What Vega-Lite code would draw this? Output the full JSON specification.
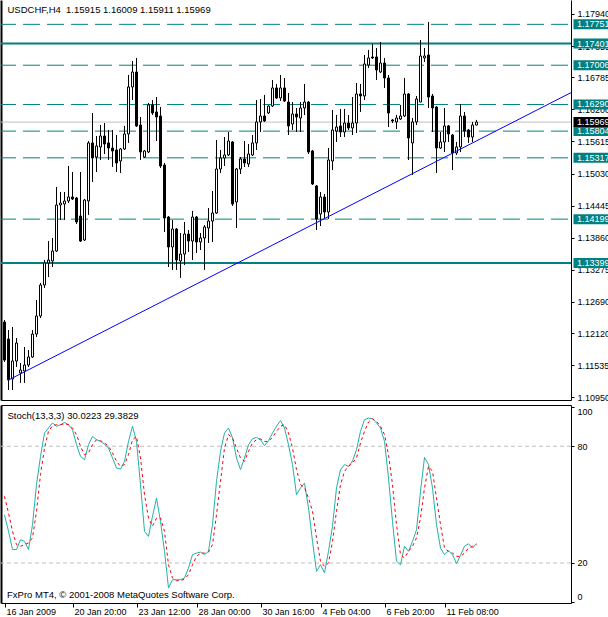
{
  "$schema": "https://vega.github.io/schema/vega-lite/v6.json",
  "padding": 0,
  "background": "white",
  "spacing": 2,
  "config": {
    "view": {"stroke": null},
    "scale": {"continuousPadding": 0},
    "axis": {"labelFont": "Liberation Sans", "labelFontSize": 9, "labelColor": "black", "tickColor": "black", "domainColor": "black", "grid": false, "title": null},
    "text": {"font": "Liberation Sans"}
  },
  "datasets": {
    "bars": [
      {"i":0,"o":1.12323,"h":1.12360,"l":1.11594,"c":1.11630,"k":44.8,"d":54.3},
      {"i":1,"o":1.12013,"h":1.12177,"l":1.11083,"c":1.11266,"k":36.3,"d":45.7},
      {"i":2,"o":1.11284,"h":1.12232,"l":1.11083,"c":1.11612,"k":26.9,"d":36.3},
      {"i":3,"o":1.11612,"h":1.12032,"l":1.11503,"c":1.11940,"k":26.9,"d":29.4},
      {"i":4,"o":1.11393,"h":1.11576,"l":1.11211,"c":1.11448,"k":32.0,"d":28.6},
      {"i":5,"o":1.11430,"h":1.11867,"l":1.11211,"c":1.11539,"k":31.1,"d":29.4},
      {"i":6,"o":1.11539,"h":1.11813,"l":1.11503,"c":1.11685,"k":26.9,"d":30.3},
      {"i":7,"o":1.11685,"h":1.12177,"l":1.11667,"c":1.12104,"k":39.7,"d":32.9},
      {"i":8,"o":1.12104,"h":1.12725,"l":1.12050,"c":1.12433,"k":60.3,"d":46.6},
      {"i":9,"o":1.12433,"h":1.13035,"l":1.12396,"c":1.12998,"k":74.8,"d":65.4},
      {"i":10,"o":1.12998,"h":1.13454,"l":1.12943,"c":1.13399,"k":86.8,"d":79.1},
      {"i":11,"o":1.13399,"h":1.13800,"l":1.13144,"c":1.13454,"k":89.4,"d":87.7},
      {"i":12,"o":1.13436,"h":1.13855,"l":1.13326,"c":1.13618,"k":92.0,"d":90.6},
      {"i":13,"o":1.13618,"h":1.14785,"l":1.13600,"c":1.14457,"k":90.3,"d":91.1},
      {"i":14,"o":1.14457,"h":1.14694,"l":1.14183,"c":1.14493,"k":91.1,"d":91.1},
      {"i":15,"o":1.14475,"h":1.14694,"l":1.14183,"c":1.14530,"k":92.3,"d":91.5},
      {"i":16,"o":1.14530,"h":1.15168,"l":1.14493,"c":1.14603,"k":91.1,"d":91.1},
      {"i":17,"o":1.14603,"h":1.15059,"l":1.14548,"c":1.14566,"k":88.5,"d":89.4},
      {"i":18,"o":1.14585,"h":1.14603,"l":1.14111,"c":1.14147,"k":80.8,"d":86.0},
      {"i":19,"o":1.14256,"h":1.15059,"l":1.13782,"c":1.13800,"k":74.8,"d":80.0},
      {"i":20,"o":1.13819,"h":1.14566,"l":1.13800,"c":1.14548,"k":73.1,"d":75.7},
      {"i":21,"o":1.14530,"h":1.15624,"l":1.14275,"c":1.15588,"k":80.8,"d":76.6},
      {"i":22,"o":1.15588,"h":1.16135,"l":1.14876,"c":1.15314,"k":85.1,"d":80.8},
      {"i":23,"o":1.15332,"h":1.15715,"l":1.15059,"c":1.15533,"k":83.4,"d":83.4},
      {"i":24,"o":1.15515,"h":1.15916,"l":1.15278,"c":1.15715,"k":82.5,"d":82.9},
      {"i":25,"o":1.15715,"h":1.15952,"l":1.15387,"c":1.15569,"k":81.2,"d":81.7},
      {"i":26,"o":1.15588,"h":1.15825,"l":1.15278,"c":1.15496,"k":79.1,"d":80.0},
      {"i":27,"o":1.15496,"h":1.15825,"l":1.15150,"c":1.15442,"k":74.0,"d":76.6},
      {"i":28,"o":1.15460,"h":1.15733,"l":1.15059,"c":1.15223,"k":68.8,"d":72.3},
      {"i":29,"o":1.15259,"h":1.15496,"l":1.15041,"c":1.15478,"k":68.3,"d":69.7},
      {"i":30,"o":1.15478,"h":1.15898,"l":1.15460,"c":1.15752,"k":72.3,"d":70.6},
      {"i":31,"o":1.15752,"h":1.16828,"l":1.15588,"c":1.16609,"k":82.5,"d":75.7},
      {"i":32,"o":1.16609,"h":1.17083,"l":1.16372,"c":1.16882,"k":90.3,"d":83.4},
      {"i":33,"o":1.16882,"h":1.17138,"l":1.15879,"c":1.15898,"k":82.5,"d":85.1},
      {"i":34,"o":1.15916,"h":1.16062,"l":1.15278,"c":1.15423,"k":60.3,"d":74.0},
      {"i":35,"o":1.15332,"h":1.15460,"l":1.15314,"c":1.15442,"k":36.3,"d":55.1},
      {"i":36,"o":1.15423,"h":1.16317,"l":1.15405,"c":1.16281,"k":33.7,"d":43.1},
      {"i":37,"o":1.16281,"h":1.16372,"l":1.16098,"c":1.16135,"k":44.0,"d":38.9},
      {"i":38,"o":1.16153,"h":1.16426,"l":1.15624,"c":1.16062,"k":53.4,"d":43.1},
      {"i":39,"o":1.16080,"h":1.16244,"l":1.15132,"c":1.15168,"k":41.4,"d":43.1},
      {"i":40,"o":1.15186,"h":1.15223,"l":1.13965,"c":1.14220,"k":26.0,"d":36.3},
      {"i":41,"o":1.14238,"h":1.14256,"l":1.13326,"c":1.13691,"k":7.1,"d":19.1},
      {"i":42,"o":1.13691,"h":1.14183,"l":1.13272,"c":1.14019,"k":11.4,"d":12.3},
      {"i":43,"o":1.14019,"h":1.14038,"l":1.13272,"c":1.13454,"k":11.4,"d":10.9},
      {"i":44,"o":1.13436,"h":1.13946,"l":1.13126,"c":1.13563,"k":11.4,"d":10.9},
      {"i":45,"o":1.13563,"h":1.14147,"l":1.13363,"c":1.13928,"k":12.3,"d":11.8},
      {"i":46,"o":1.13928,"h":1.14001,"l":1.13600,"c":1.13800,"k":17.4,"d":14.0},
      {"i":47,"o":1.13800,"h":1.14348,"l":1.13454,"c":1.14238,"k":24.3,"d":19.1},
      {"i":48,"o":1.14238,"h":1.14256,"l":1.13582,"c":1.13782,"k":25.1,"d":23.4},
      {"i":49,"o":1.13782,"h":1.13946,"l":1.13636,"c":1.13855,"k":25.6,"d":25.1},
      {"i":50,"o":1.13855,"h":1.14092,"l":1.13272,"c":1.14056,"k":24.3,"d":25.1},
      {"i":51,"o":1.14038,"h":1.14402,"l":1.13764,"c":1.14165,"k":26.0,"d":25.6},
      {"i":52,"o":1.14165,"h":1.14712,"l":1.13782,"c":1.14311,"k":39.7,"d":29.4},
      {"i":53,"o":1.14311,"h":1.15642,"l":1.14293,"c":1.15113,"k":62.0,"d":44.8},
      {"i":54,"o":1.15113,"h":1.15460,"l":1.15041,"c":1.15314,"k":77.4,"d":62.0},
      {"i":55,"o":1.15314,"h":1.15697,"l":1.15168,"c":1.15369,"k":86.8,"d":79.1},
      {"i":56,"o":1.15369,"h":1.15788,"l":1.15350,"c":1.15624,"k":89.4,"d":86.0},
      {"i":57,"o":1.15606,"h":1.15624,"l":1.14439,"c":1.14475,"k":84.3,"d":84.3},
      {"i":58,"o":1.14512,"h":1.15132,"l":1.14038,"c":1.15113,"k":74.0,"d":79.1},
      {"i":59,"o":1.15113,"h":1.15332,"l":1.15022,"c":1.15296,"k":68.0,"d":74.0},
      {"i":60,"o":1.15296,"h":1.15624,"l":1.15150,"c":1.15223,"k":74.0,"d":72.3},
      {"i":61,"o":1.15205,"h":1.15569,"l":1.15150,"c":1.15387,"k":80.8,"d":77.4},
      {"i":62,"o":1.15369,"h":1.15733,"l":1.15350,"c":1.15588,"k":83.9,"d":81.7},
      {"i":63,"o":1.15588,"h":1.16372,"l":1.15460,"c":1.15971,"k":84.6,"d":83.4},
      {"i":64,"o":1.15971,"h":1.16390,"l":1.15788,"c":1.16080,"k":83.4,"d":83.8},
      {"i":65,"o":1.16080,"h":1.16463,"l":1.15971,"c":1.15989,"k":80.3,"d":82.5},
      {"i":66,"o":1.16135,"h":1.16281,"l":1.16116,"c":1.16262,"k":82.9,"d":82.5},
      {"i":67,"o":1.16262,"h":1.16736,"l":1.16244,"c":1.16591,"k":86.8,"d":84.6},
      {"i":68,"o":1.16591,"h":1.16664,"l":1.16390,"c":1.16408,"k":90.3,"d":87.7},
      {"i":69,"o":1.16408,"h":1.16828,"l":1.16354,"c":1.16591,"k":93.2,"d":90.3},
      {"i":70,"o":1.16591,"h":1.16773,"l":1.16335,"c":1.16354,"k":89.4,"d":91.1},
      {"i":71,"o":1.16335,"h":1.16499,"l":1.15733,"c":1.15898,"k":80.8,"d":86.8},
      {"i":72,"o":1.15934,"h":1.16335,"l":1.15825,"c":1.16116,"k":70.6,"d":79.1},
      {"i":73,"o":1.16116,"h":1.16226,"l":1.15788,"c":1.16062,"k":55.1,"d":68.0},
      {"i":74,"o":1.16043,"h":1.16335,"l":1.15788,"c":1.16226,"k":58.6,"d":60.3},
      {"i":75,"o":1.16226,"h":1.16664,"l":1.16098,"c":1.16335,"k":61.1,"d":58.6},
      {"i":76,"o":1.16335,"h":1.16354,"l":1.15387,"c":1.15423,"k":48.3,"d":53.4},
      {"i":77,"o":1.15442,"h":1.15460,"l":1.14822,"c":1.14840,"k":31.1,"d":46.6},
      {"i":78,"o":1.14803,"h":1.14822,"l":1.14001,"c":1.14202,"k":15.7,"d":32.9},
      {"i":79,"o":1.14293,"h":1.14694,"l":1.14074,"c":1.14603,"k":19.1,"d":20.8},
      {"i":80,"o":1.14603,"h":1.14658,"l":1.14202,"c":1.14329,"k":14.9,"d":18.3},
      {"i":81,"o":1.14329,"h":1.15496,"l":1.14202,"c":1.15278,"k":26.0,"d":20.0},
      {"i":82,"o":1.15259,"h":1.16189,"l":1.15095,"c":1.15825,"k":38.9,"d":31.1},
      {"i":83,"o":1.15806,"h":1.16098,"l":1.15606,"c":1.15879,"k":58.6,"d":46.6},
      {"i":84,"o":1.15898,"h":1.16208,"l":1.15697,"c":1.15788,"k":68.0,"d":60.3},
      {"i":85,"o":1.15788,"h":1.16208,"l":1.15697,"c":1.15952,"k":70.6,"d":67.1},
      {"i":86,"o":1.15952,"h":1.16098,"l":1.15825,"c":1.15861,"k":69.7,"d":69.7},
      {"i":87,"o":1.15861,"h":1.16426,"l":1.15733,"c":1.15952,"k":72.3,"d":71.4},
      {"i":88,"o":1.15952,"h":1.16682,"l":1.15770,"c":1.16481,"k":78.3,"d":74.0},
      {"i":89,"o":1.16481,"h":1.16664,"l":1.16153,"c":1.16445,"k":87.7,"d":81.7},
      {"i":90,"o":1.16445,"h":1.17192,"l":1.16372,"c":1.17028,"k":93.7,"d":87.7},
      {"i":91,"o":1.17010,"h":1.17284,"l":1.16955,"c":1.17138,"k":94.5,"d":92.5},
      {"i":92,"o":1.17156,"h":1.17393,"l":1.17119,"c":1.17138,"k":94.2,"d":94.2},
      {"i":93,"o":1.17156,"h":1.17320,"l":1.16736,"c":1.16919,"k":92.0,"d":92.8},
      {"i":94,"o":1.16882,"h":1.17429,"l":1.16864,"c":1.17046,"k":89.4,"d":90.3},
      {"i":95,"o":1.17046,"h":1.17138,"l":1.16591,"c":1.16773,"k":82.5,"d":86.0},
      {"i":96,"o":1.16773,"h":1.16828,"l":1.15879,"c":1.16135,"k":63.7,"d":75.7},
      {"i":97,"o":1.16007,"h":1.16025,"l":1.15952,"c":1.15989,"k":41.4,"d":60.3},
      {"i":98,"o":1.15971,"h":1.16098,"l":1.15843,"c":1.16043,"k":20.8,"d":39.7},
      {"i":99,"o":1.16025,"h":1.16281,"l":1.16007,"c":1.16080,"k":19.1,"d":24.3},
      {"i":100,"o":1.16080,"h":1.16773,"l":1.16062,"c":1.16481,"k":28.6,"d":22.6},
      {"i":101,"o":1.16481,"h":1.16499,"l":1.15278,"c":1.15679,"k":26.0,"d":26.0},
      {"i":102,"o":1.15588,"h":1.16043,"l":1.15004,"c":1.15971,"k":31.1,"d":28.6},
      {"i":103,"o":1.15971,"h":1.16445,"l":1.15916,"c":1.16390,"k":37.1,"d":32.9},
      {"i":104,"o":1.16335,"h":1.17466,"l":1.16335,"c":1.17174,"k":56.8,"d":43.1},
      {"i":105,"o":1.17138,"h":1.17320,"l":1.17065,"c":1.17174,"k":74.3,"d":58.6},
      {"i":106,"o":1.17192,"h":1.17794,"l":1.16226,"c":1.16426,"k":70.6,"d":69.7},
      {"i":107,"o":1.16445,"h":1.16481,"l":1.15788,"c":1.16226,"k":58.6,"d":67.1},
      {"i":108,"o":1.16244,"h":1.16262,"l":1.15041,"c":1.15496,"k":39.7,"d":53.4},
      {"i":109,"o":1.15496,"h":1.15788,"l":1.15478,"c":1.15606,"k":27.7,"d":39.7},
      {"i":110,"o":1.15606,"h":1.16226,"l":1.15423,"c":1.15898,"k":24.3,"d":27.7},
      {"i":111,"o":1.15898,"h":1.15916,"l":1.15606,"c":1.15752,"k":26.3,"d":26.0},
      {"i":112,"o":1.15733,"h":1.15752,"l":1.15095,"c":1.15405,"k":24.3,"d":25.1},
      {"i":113,"o":1.15405,"h":1.15606,"l":1.15369,"c":1.15515,"k":19.7,"d":23.4},
      {"i":114,"o":1.15515,"h":1.16299,"l":1.15423,"c":1.16080,"k":23.9,"d":23.4},
      {"i":115,"o":1.16080,"h":1.16153,"l":1.15697,"c":1.15806,"k":28.6,"d":25.1},
      {"i":116,"o":1.15825,"h":1.15843,"l":1.15588,"c":1.15697,"k":29.9,"d":27.7},
      {"i":117,"o":1.15697,"h":1.15971,"l":1.15606,"c":1.15915,"k":27.7,"d":28.6},
      {"i":118,"o":1.15915,"h":1.16009,"l":1.15911,"c":1.15969,"k":30.0223,"d":29.3829}
    ],
    "levels": [
      {"p":1.17751,"s":"dash"},
      {"p":1.17401,"s":"solid"},
      {"p":1.17006,"s":"dash"},
      {"p":1.16290,"s":"dash"},
      {"p":1.15804,"s":"dash"},
      {"p":1.15317,"s":"dash"},
      {"p":1.14199,"s":"dash"},
      {"p":1.13399,"s":"solid"}
    ],
    "bid": [{"p":1.15969}],
    "trend": [{"i":1,"p":1.11266},{"i":141.6,"p":1.16505}],
    "stochLevels": [{"v":20},{"v":80}]
  },
  "vconcat": [
    {
      "width": 570,
      "height": 400,
      "resolve": {"axis": {"y": "independent", "x": "independent"}},
      "layer": [
        {
          "data": {"name": "levels"},
          "transform": [{"filter": "datum.s == 'dash'"}],
          "mark": {"type": "rule", "color": "#008080", "strokeWidth": 1, "strokeDash": [17, 7], "strokeDashOffset": -3},
          "encoding": {
            "y": {"field": "p", "type": "quantitative", "scale": {"domain": [1.10901, 1.18195], "nice": false, "zero": false, "padding": 0},
                  "axis": {"orient": "left", "labels": false, "ticks": false, "domain": true, "domainWidth": 2}}
          }
        },
        {
          "data": {"name": "levels"},
          "transform": [{"filter": "datum.s == 'solid'"}],
          "mark": {"type": "rule", "color": "#008080", "strokeWidth": 2},
          "encoding": {"y": {"field": "p", "type": "quantitative", "axis": null}}
        },
        {
          "data": {"name": "bid"},
          "mark": {"type": "rule", "color": "#C0C0C0", "strokeWidth": 1},
          "encoding": {"y": {"field": "p", "type": "quantitative", "axis": null}}
        },
        {
          "data": {"name": "bars"},
          "mark": {"type": "rule", "color": "black", "strokeWidth": 1},
          "encoding": {
            "x": {"field": "i", "type": "quantitative", "scale": {"domain": [-0.875, 141.625], "nice": false, "zero": false, "padding": 0},
                  "axis": {"orient": "bottom", "labels": false, "ticks": false, "domain": true}},
            "y": {"field": "l", "type": "quantitative",
                  "axis": {"orient": "right", "values": [1.1794, 1.17355, 1.16785, 1.162, 1.15615, 1.1503, 1.14445, 1.1386, 1.13275, 1.1269, 1.1212, 1.11535, 1.1095],
                           "format": ".5f", "tickSize": 3, "labelPadding": 3, "domain": true}},
            "y2": {"field": "h"}
          }
        },
        {
          "data": {"name": "bars"},
          "mark": {"type": "bar", "size": 2, "stroke": "black", "strokeWidth": 1},
          "encoding": {
            "x": {"field": "i", "type": "quantitative", "axis": null},
            "y": {"field": "o", "type": "quantitative", "axis": null},
            "y2": {"field": "c"},
            "fill": {"condition": {"test": "datum.c >= datum.o", "value": "white"}, "value": "black"}
          }
        },
        {
          "data": {"name": "trend"},
          "mark": {"type": "line", "color": "#0000FF", "strokeWidth": 1, "clip": true},
          "encoding": {
            "x": {"field": "i", "type": "quantitative", "axis": null},
            "y": {"field": "p", "type": "quantitative", "axis": null}
          }
        },
        {
          "data": {"name": "levels"},
          "mark": {"type": "bar", "orient": "horizontal", "size": 10, "color": "#008080", "clip": false},
          "encoding": {
            "x": {"datum": 142.25, "type": "quantitative", "axis": null},
            "x2": {"datum": 154},
            "y": {"field": "p", "type": "quantitative", "axis": null}
          }
        },
        {
          "data": {"name": "levels"},
          "mark": {"type": "text", "align": "left", "baseline": "middle", "dx": 3.5, "fontSize": 9, "color": "white", "clip": false},
          "encoding": {
            "x": {"datum": 142.25, "type": "quantitative", "axis": null},
            "y": {"field": "p", "type": "quantitative", "axis": null},
            "text": {"field": "p", "type": "quantitative", "format": ".5f"}
          }
        },
        {
          "data": {"name": "bid"},
          "mark": {"type": "bar", "orient": "horizontal", "size": 10, "color": "black", "clip": false},
          "encoding": {
            "x": {"datum": 142.25, "type": "quantitative", "axis": null},
            "x2": {"datum": 154},
            "y": {"field": "p", "type": "quantitative", "axis": null}
          }
        },
        {
          "data": {"name": "bid"},
          "mark": {"type": "text", "align": "left", "baseline": "middle", "dx": 3.5, "fontSize": 9, "color": "white", "clip": false},
          "encoding": {
            "x": {"datum": 142.25, "type": "quantitative", "axis": null},
            "y": {"field": "p", "type": "quantitative", "axis": null},
            "text": {"field": "p", "type": "quantitative", "format": ".5f"}
          }
        },
        {
          "data": {"values": [{"t": "USDCHF,H4\u00a0 1.15915 1.16009 1.15911 1.15969"}]},
          "mark": {"type": "text", "align": "left", "baseline": "middle", "dx": 6.5, "dy": 10, "fontSize": 9.5, "color": "black"},
          "encoding": {
            "x": {"datum": -0.875, "type": "quantitative", "axis": null},
            "y": {"datum": 1.18195, "type": "quantitative", "axis": null},
            "text": {"field": "t"}
          }
        }
      ]
    },
    {
      "width": 570,
      "height": 198,
      "resolve": {"axis": {"y": "independent", "x": "independent"}},
      "layer": [
        {
          "data": {"name": "stochLevels"},
          "mark": {"type": "rule", "color": "#C0C0C0", "strokeWidth": 1, "strokeDash": [4, 3]},
          "encoding": {
            "y": {"field": "v", "type": "quantitative", "scale": {"domain": [-0.57, 101.23], "nice": false, "zero": false, "padding": 0},
                  "axis": {"orient": "left", "labels": false, "ticks": false, "domain": true, "domainWidth": 2}}
          }
        },
        {
          "data": {"name": "bars"},
          "mark": {"type": "line", "color": "#20B2AA", "strokeWidth": 1},
          "encoding": {
            "x": {"field": "i", "type": "quantitative", "scale": {"domain": [-0.875, 141.625], "nice": false, "zero": false, "padding": 0},
                  "axis": {"orient": "bottom", "values": [0, 17, 33, 48, 64, 79, 95, 110], "tickSize": 4, "labelPadding": 0, "labelAlign": "left", "labelBaseline": "top", "labelOffset": 1.5, "labelFlush": false, "domain": true,
                           "labelExpr": "datum.value == 0 ? '16 Jan 2009' : datum.value == 17 ? '20 Jan 20:00' : datum.value == 33 ? '23 Jan 12:00' : datum.value == 48 ? '28 Jan 00:00' : datum.value == 64 ? '30 Jan 16:00' : datum.value == 79 ? '4 Feb 04:00' : datum.value == 95 ? '6 Feb 20:00' : '11 Feb 08:00'"}},
            "y": {"field": "k", "type": "quantitative",
                  "axis": {"orient": "right", "values": [0, 20, 80, 100], "tickSize": 3, "labelPadding": 3, "labelFlush": 5, "domain": true}}
          }
        },
        {
          "data": {"name": "bars"},
          "mark": {"type": "line", "color": "red", "strokeWidth": 1, "strokeDash": [3, 3]},
          "encoding": {
            "x": {"field": "i", "type": "quantitative", "axis": {"orient": "top", "labels": false, "ticks": false, "domain": true}},
            "y": {"field": "d", "type": "quantitative", "axis": null}
          }
        },
        {
          "data": {"values": [{"t": "Stoch(13,3,3) 30.0223 29.3829"}]},
          "mark": {"type": "text", "align": "left", "baseline": "middle", "dx": 6.5, "dy": 10.5, "fontSize": 9.5, "color": "black"},
          "encoding": {
            "x": {"datum": -0.875, "type": "quantitative", "axis": null},
            "y": {"datum": 101.23, "type": "quantitative", "axis": null},
            "text": {"field": "t"}
          }
        },
        {
          "data": {"values": [{"t": "FxPro MT4, © 2001-2008 MetaQuotes Software Corp."}]},
          "mark": {"type": "text", "align": "left", "baseline": "middle", "dx": 6, "dy": -8.5, "fontSize": 9.5, "color": "black"},
          "encoding": {
            "x": {"datum": -0.875, "type": "quantitative", "axis": null},
            "y": {"datum": -0.57, "type": "quantitative", "axis": null},
            "text": {"field": "t"}
          }
        }
      ]
    }
  ]
}
